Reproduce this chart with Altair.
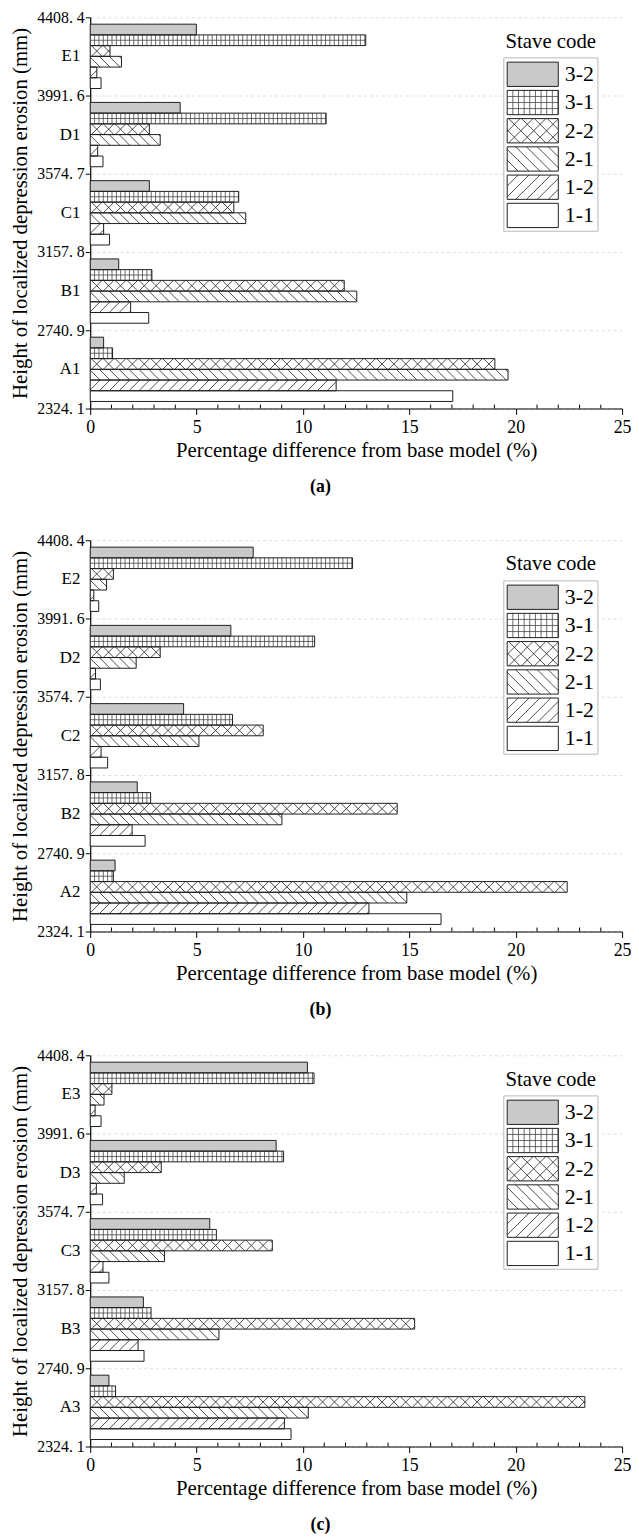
import altair as alt
import pandas as pd

FONT = "Liberation Serif"

staves = ["3-2", "3-1", "2-2", "2-1", "1-2", "1-1"]          # top -> bottom inside a group
letters = ["A", "B", "C", "D", "E"]
heights = [2324.1, 2740.9, 3157.8, 3574.7, 3991.6, 4408.4]   # group boundaries (mm)
x_ticks = [0, 5, 10, 15, 20, 25]
x_minor = [1, 2, 3, 4, 6, 7, 8, 9, 11, 12, 13, 14, 16, 17, 18, 19, 21, 22, 23, 24]
captions = ["(a)", "(b)", "(c)"]

# Percentage difference from base model (%), per group A..E, staves in order 3-2,3-1,2-2,2-1,1-2,1-1
panel_a = [
    [0.63, 1.05, 19.02, 19.64, 11.56, 17.04],   # A1
    [1.34, 2.90, 11.94, 12.53, 1.90, 2.75],     # B1
    [2.78, 6.98, 6.75, 7.31, 0.63, 0.91],       # C1
    [4.23, 11.09, 2.78, 3.29, 0.35, 0.60],      # D1
    [4.99, 12.95, 0.93, 1.47, 0.31, 0.51],      # E1
]
panel_b = [
    [1.17, 1.09, 22.42, 14.88, 13.10, 16.49],   # A2
    [2.21, 2.84, 14.43, 9.01, 1.97, 2.58],      # B2
    [4.39, 6.69, 8.13, 5.11, 0.51, 0.82],       # C2
    [6.61, 10.55, 3.29, 2.16, 0.25, 0.48],      # D2
    [7.66, 12.33, 1.09, 0.77, 0.17, 0.40],      # E2
]
panel_c = [
    [0.88, 1.19, 23.25, 10.25, 9.13, 9.44],     # A3
    [2.50, 2.86, 15.25, 6.05, 2.25, 2.53],      # B3
    [5.62, 5.93, 8.56, 3.49, 0.60, 0.88],       # C3
    [8.74, 9.09, 3.34, 1.60, 0.29, 0.58],       # D3
    [10.21, 10.52, 1.02, 0.65, 0.23, 0.51],     # E3
]
panels = [panel_a, panel_b, panel_c]

# ---------------- layout / style constants ----------------
W, H = 537, 395
PAD, BH = 0.088, 0.137            # bar layout inside one height band (fractions)
fills = ["#c9c9c9", "white", "white", "white", "white", "white"]
INK = "#1e1e1e"

X_MAX = 25.0
Y_LO, Y_HI = heights[0], heights[-1]
ppu = W / X_MAX                    # pixels per % unit
mmpp = (Y_HI - Y_LO) / H           # mm per pixel
bar_px = H / 5.0 * BH
DX = bar_px / ppu                  # 45 degree hatch
SP_DIAG = 10.0 / ppu
SP_CROSS = 12.0 / ppu
SP_GRID = 4.4 / ppu

# legend geometry in pixels relative to the plot origin (converted to scale units below)
LX0, SYM_W = 421.0, 51.6
LY0, STEP = 43.3, 28.5
LPAD = 0.07
SYM_H = STEP * (1 - 2 * LPAD)

XSC = alt.Scale(domain=[0, X_MAX], nice=False)
YSC = alt.Scale(domain=[Y_LO, Y_HI], nice=False, zero=False)
X_AXIS = alt.Axis(values=x_ticks, title="Percentage difference from base model (%)",
                  labelFont=FONT, titleFont=FONT,
                  titleFontSize=21, titleFontWeight="normal", titlePadding=3,
                  labelFontSize=18, labelPadding=4, tickSize=6, labelFlush=False,
                  labelColor="black", titleColor="black", tickColor="black", domainColor="black",
                  grid=False, domainWidth=1.2)
Y_AXIS = alt.Axis(values=heights, labelExpr="replace(format(datum.value, '.1f'), '.', '. ')",
                  title="Height of localized depression erosion (mm)",
                  labelFont=FONT, titleFont=FONT,
                  titleFontSize=21, titleFontWeight="normal", titlePadding=6,
                  labelFontSize=16, labelPadding=1, tickSize=5, labelFlush=False,
                  labelColor="black", titleColor="black", tickColor="black", domainColor="black",
                  grid=True, gridDash=[3, 3], gridColor="#dedede", domainWidth=1.2)


def X(field):
    return alt.X(field, scale=XSC, axis=X_AXIS)


def Y(field):
    return alt.Y(field, scale=YSC, axis=Y_AXIS)


def pattern_layers(base, dx, sp_diag, sp_cross, sp_grid, grid_rows, sw=0.8):
    out = []
    specs = [("/", "1-2", sp_diag), ("\\", "2-1", sp_diag), ("/", "2-2", sp_cross), ("\\", "2-2", sp_cross)]
    for direction, st, sp in specs:
        c = (base.transform_filter(alt.datum.stave == st)
             .transform_calculate(hs=f"sequence(datum.x0 - {dx}, datum.x1, {sp})")
             .transform_flatten(["hs"])
             .transform_calculate(ha="max(datum.hs, datum.x0)", hb=f"min(datum.hs + {dx}, datum.x1)")
             .transform_filter("datum.hb > datum.ha"))
        if direction == "/":
            c = c.transform_calculate(
                ya=f"datum.yb + (datum.ha - datum.hs) / {dx} * (datum.yt - datum.yb)",
                yz=f"datum.yb + (datum.hb - datum.hs) / {dx} * (datum.yt - datum.yb)")
        else:
            c = c.transform_calculate(
                ya=f"datum.yt - (datum.ha - datum.hs) / {dx} * (datum.yt - datum.yb)",
                yz=f"datum.yt - (datum.hb - datum.hs) / {dx} * (datum.yt - datum.yb)")
        out.append(c.mark_rule(color=INK, strokeWidth=sw).encode(
            x=X("ha:Q"), x2="hb:Q", y=Y("ya:Q"), y2="yz:Q"))
    g = (base.transform_filter(alt.datum.stave == "3-1")
         .transform_calculate(hs=f"sequence(datum.x0 + {sp_grid}, datum.x1, {sp_grid})")
         .transform_flatten(["hs"]))
    out.append(g.mark_rule(color="#444444", strokeWidth=0.8).encode(
        x=X("hs:Q"), y=Y("yt:Q"), y2="yb:Q"))
    h = (base.transform_filter(alt.datum.stave == "3-1")
         .transform_calculate(fr=f"sequence(1, {grid_rows})")
         .transform_flatten(["fr"])
         .transform_calculate(yh=f"datum.yt + (datum.yb - datum.yt) * datum.fr / {grid_rows}"))
    out.append(h.mark_rule(color="#444444", strokeWidth=0.8).encode(
        x=X("x0:Q"), x2="x1:Q", y=Y("yh:Q")))
    return out


fill_enc = alt.Fill("stave:N", scale=alt.Scale(domain=staves, range=fills), legend=None)


def make_panel(p):
    rows = []
    for gi, letter in enumerate(letters):
        for k, st in enumerate(staves):
            rows.append({"group": f"{letter}{p + 1}", "gi": gi, "stave": st, "k": k,
                         "value": panels[p][gi][k], "lo": heights[gi], "hi": heights[gi + 1]})
    df = pd.DataFrame(rows)

    base = (alt.Chart(df)
            .transform_calculate(yt=f"datum.hi - (datum.hi - datum.lo) * ({PAD} + datum.k * {BH})",
                                 x0="0", x1="datum.value")
            .transform_calculate(yb=f"datum.yt - (datum.hi - datum.lo) * {BH}"))

    bars = base.mark_rect(strokeWidth=0).encode(
        x=X("x0:Q"), x2="x1:Q", y=Y("yt:Q"), y2="yb:Q", fill=fill_enc)
    outline = base.mark_rect(fill="white", fillOpacity=0, stroke=INK, strokeWidth=1).encode(
        x=X("x0:Q"), x2="x1:Q", y=Y("yt:Q"), y2="yb:Q")
    cats = (base.transform_filter("datum.k == 0")
            .transform_calculate(ym="(datum.lo + datum.hi) / 2")
            .mark_text(align="right", baseline="middle", dx=-10, font=FONT, fontSize=17, color="black")
            .encode(x=alt.value(0), y=Y("ym:Q"), text="group:N"))
    minor = (alt.Chart(pd.DataFrame({"m": x_minor}))
             .mark_rule(color="black", strokeWidth=1)
             .encode(x=X("m:Q"), y=alt.value(H - 4), y2=alt.value(H)))

    # ---------- legend built from marks, positioned in the same scales ----------
    leg_df = pd.DataFrame({"stave": staves, "k": list(range(len(staves)))})
    lx0 = LX0 / ppu
    lx1 = (LX0 + SYM_W) / ppu
    ytop0 = Y_HI - LY0 * mmpp
    lbase = (alt.Chart(leg_df)
             .transform_calculate(
                 x0=f"{lx0}", x1=f"{lx1}",
                 yt=f"{ytop0} - (datum.k + {LPAD}) * {STEP * mmpp}",
                 yb=f"{ytop0} - (datum.k + 1 - {LPAD}) * {STEP * mmpp}",
                 ym=f"{ytop0} - (datum.k + 0.5) * {STEP * mmpp}"))
    one = lbase.transform_filter("datum.k == 0")
    frame = one.mark_rect(fill="white", stroke="#b8b8b8", strokeWidth=1).encode(
        x=alt.value(LX0 - 3.4), x2=alt.value(LX0 + 91.6), y=alt.value(LY0 - 2.3), y2=alt.value(LY0 + 172.7))
    ltitle = one.mark_text(text="Stave code", font=FONT, fontSize=21, align="center", baseline="middle",
                           color="black").encode(x=alt.value(LX0 + 44), y=alt.value(LY0 - 18.8))
    lrect = lbase.mark_rect(strokeWidth=0).encode(
        x=X("x0:Q"), x2="x1:Q", y=Y("yt:Q"), y2="yb:Q", fill=fill_enc)
    lout = lbase.mark_rect(fill="white", fillOpacity=0, stroke=INK, strokeWidth=1).encode(
        x=X("x0:Q"), x2="x1:Q", y=Y("yt:Q"), y2="yb:Q")
    llab = lbase.mark_text(align="left", baseline="middle", font=FONT, fontSize=22, color="black").encode(
        x=alt.value(LX0 + SYM_W + 6.5), y=Y("ym:Q"), text="stave:N")
    leg_patterns = pattern_layers(lbase, SYM_H / ppu, 11.0 / ppu, 13.0 / ppu, 5.7 / ppu, 4)

    return (alt.layer(bars, *pattern_layers(base, DX, SP_DIAG, SP_CROSS, SP_GRID, 2),
                      outline, cats, minor,
                      frame, ltitle, lrect, *leg_patterns, lout, llab)
            .properties(width=W, height=H,
                        title=alt.TitleParams(captions[p], orient="bottom", anchor="middle", frame="bounds",
                                              font=FONT, fontSize=18, fontWeight="bold", offset=18)))


top_two = alt.vconcat(make_panel(0), make_panel(1), spacing=37)
chart = (alt.vconcat(top_two, make_panel(2), spacing=29)
         .properties(padding={"left": 2, "top": -6, "right": 0, "bottom": 0})
         .configure(font=FONT)
         .configure_view(stroke=None)
         .configure_axis(labelColor="black", titleColor="black", domainColor="black", tickColor="black",
                         labelFont=FONT, titleFont=FONT)
         .configure_title(font=FONT, color="black"))

chart.save("out.html", embed_options={"renderer": "svg", "actions": False})
